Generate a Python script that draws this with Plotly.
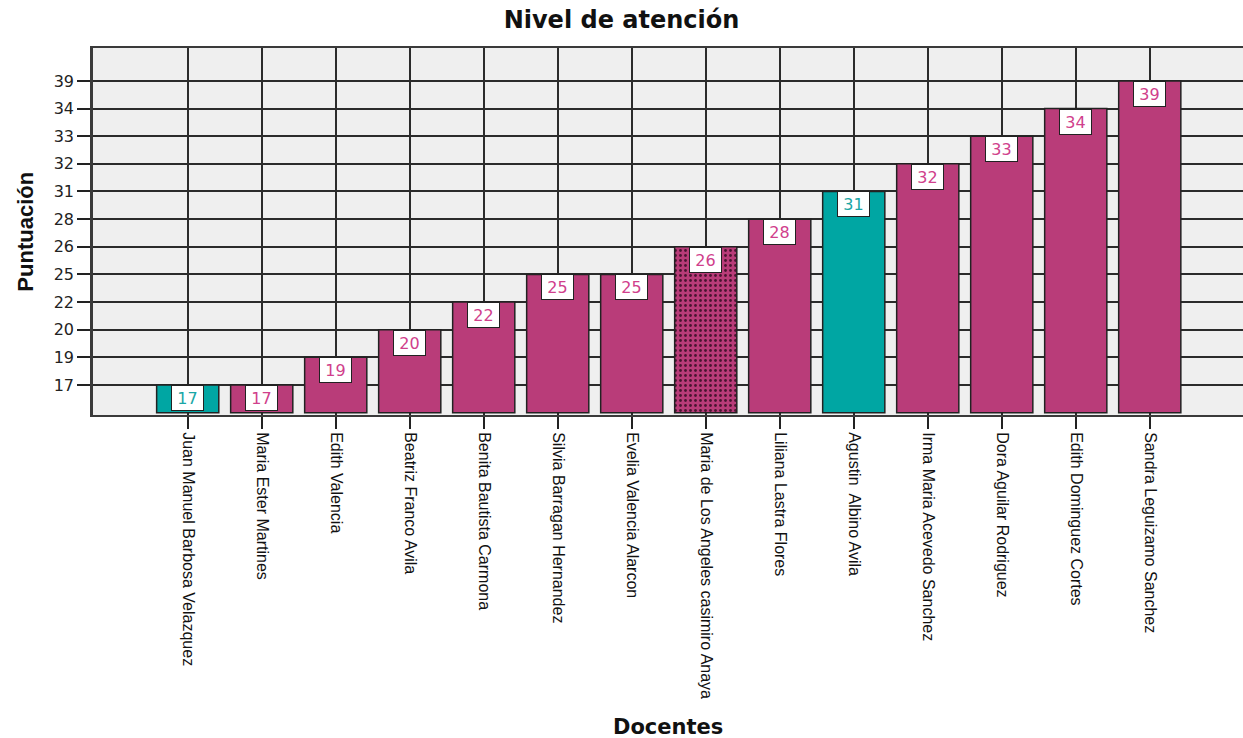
import plotly.graph_objects as go

# Scores per teacher
docentes = [
    "Juan Manuel Barbosa Velazquez",
    "Maria Ester Martines",
    "Edith Valencia",
    "Beatriz Franco Avila",
    "Benita Bautista Carmona",
    "Silvia Barragan Hernandez",
    "Evelia Valencia Alarcon",
    "Maria de Los Angeles casimiro Anaya",
    "Liliana Lastra Flores",
    "Agustin  Albino Avila",
    "Irma Maria Acevedo Sanchez",
    "Dora Aguilar Rodriguez",
    "Edith Dominguez Cortes",
    "Sandra Leguizamo Sanchez",
]
puntuacion = [17, 17, 19, 20, 22, 25, 25, 26, 28, 31, 32, 33, 34, 39]

# Distinct score levels shown on the ordinal value axis
niveles = [17, 19, 20, 22, 25, 26, 28, 31, 32, 33, 34, 39]

# Bars drawn in the alternate colour / with a dot fill
destacados = {"Juan Manuel Barbosa Velazquez", "Agustin  Albino Avila"}
tramados = {"Maria de Los Angeles casimiro Anaya"}

ROSA = "#b93c79"
TURQUESA = "#00a6a3"
TXT_ROSA = "#d0408c"
TXT_TURQUESA = "#1aa6a6"
PUNTO = "#4a1430"

# ordinal position of each score on the value axis
posicion = {v: i + 1 for i, v in enumerate(niveles)}

fig = go.Figure()

# one trace per bar colour (scalar colour keeps the dot pattern's own colours)
for color, grupo in ((ROSA, False), (TURQUESA, True)):
    xs = [d for d in docentes if (d in destacados) == grupo]
    ps = [p for d, p in zip(docentes, puntuacion) if (d in destacados) == grupo]
    formas = ["." if d in tramados else "" for d in xs]
    fig.add_trace(go.Bar(
        x=xs,
        y=[posicion[p] for p in ps],
        width=0.84,
        marker=dict(
            color=color,
            line=dict(color="#222222", width=1.5),
            pattern=dict(shape=formas, fillmode="replace",
                         fgcolor=PUNTO, bgcolor=color,
                         size=5, solidity=0.25),
        ),
        hoverinfo="skip",
    ))

# value boxes hanging from the top of each bar
for d, p in zip(docentes, puntuacion):
    fig.add_annotation(
        x=d, y=posicion[p], xref="x", yref="y",
        text=str(p), showarrow=False,
        xanchor="center", yanchor="top",
        width=29, height=22, borderpad=1,
        bgcolor="white", bordercolor="#222222", borderwidth=1,
        font=dict(family="DejaVu Sans", size=16,
                  color=TXT_TURQUESA if d in destacados else TXT_ROSA),
    )

fig.add_annotation(
    text="<b>Docentes</b>", xref="paper", yref="paper",
    x=0.5, y=-0.849, xanchor="center", yanchor="middle",
    showarrow=False, font=dict(family="DejaVu Sans", size=21, color="#111111"),
)
fig.add_annotation(
    text="<b>Puntuación</b>", xref="paper", yref="paper",
    x=-0.059, y=0.5, xanchor="center", yanchor="middle", textangle=-90,
    showarrow=False, font=dict(family="Liberation Sans", size=22, color="#111111"),
)

fig.update_layout(
    width=1243, height=738,
    margin=dict(l=93, r=0, t=48, b=323),
    paper_bgcolor="white",
    plot_bgcolor="#efefef",
    showlegend=False,
    barmode="overlay",
    title=dict(
        text="<b>Nivel de atención</b>",
        x=0.5, xref="container", xanchor="center",
        y=1 - 20 / 738, yref="container", yanchor="middle",
        font=dict(family="DejaVu Sans", size=24, color="#111111"),
    ),
)

fig.update_xaxes(
    type="category",
    categoryorder="array", categoryarray=docentes,
    range=[-1.28, 14.26],
    showgrid=True, gridcolor="#2b2b2b", gridwidth=1.5,
    showline=True, linecolor="#3a3a3a", linewidth=2, mirror=True,
    ticks="outside", ticklen=12, tickwidth=1.5, tickcolor="#222222",
    tickangle=90,
    tickfont=dict(family="Liberation Sans", size=16, color="#111111"),
    zeroline=False,
)
fig.update_yaxes(
    range=[-0.085, 13.19],
    tickmode="array",
    tickvals=list(range(1, len(niveles) + 1)),
    ticktext=[str(v) for v in niveles],
    showgrid=True, gridcolor="#2b2b2b", gridwidth=1.5,
    showline=True, linecolor="#3a3a3a", linewidth=2.5, mirror=False,
    ticks="outside", ticklen=13, tickwidth=1.5, tickcolor="#222222",
    tickfont=dict(family="DejaVu Sans", size=16, color="#222222"),
    zeroline=False,
)

fig.write_html("out.html")
